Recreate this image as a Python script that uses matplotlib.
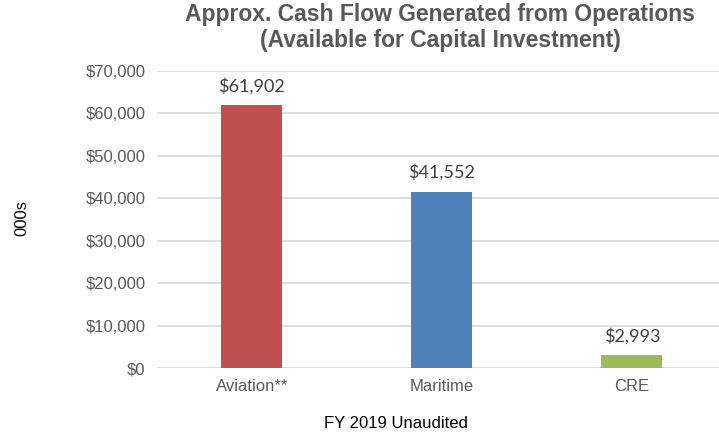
import matplotlib
matplotlib.use("Agg")
import matplotlib.pyplot as plt
from matplotlib.ticker import FuncFormatter

categories = ["Aviation**", "Maritime", "CRE"]
values = [61902, 41552, 2993]
colors = ["#C0504D", "#4F81BD", "#9BBB59"]
yticks = [0, 10000, 20000, 30000, 40000, 50000, 60000, 70000]

GRAY = "#595959"

fig = plt.figure(figsize=(7.19, 4.33), dpi=100)
ax = fig.add_axes([0.218, 0.150, 0.793, 0.686])

x = range(len(categories))
ax.bar(x, values, width=0.32, color=colors, zorder=3)
for xi, v in zip(x, values):
    ax.text(xi, v + 2600, f"${v:,}", ha="center", va="bottom",
            fontsize=13, color="#404040", family="Lato")

ax.set_xlim(-0.5, 2.5)
ax.set_ylim(0, 70000)
ax.set_yticks(yticks)
ax.yaxis.set_major_formatter(FuncFormatter(lambda v, p: f"${v:,.0f}"))
ax.set_xticks(list(x))
ax.set_xticklabels(categories)
ax.grid(axis="y", color="#D9D9D9", linewidth=1.2, zorder=0)
for s in ax.spines.values():
    s.set_visible(False)
ax.tick_params(length=0, labelsize=12, labelcolor=GRAY, pad=8)
for lab in ax.get_xticklabels() + ax.get_yticklabels():
    lab.set_family("Liberation Sans")

fig.text(0.612, 0.994, "Approx. Cash Flow Generated from Operations\n(Available for Capital Investment)",
         ha="center", va="top", fontsize=16.5, fontweight="bold", color=GRAY,
         family="Liberation Sans", linespacing=1.2)
fig.text(0.55, 0.004, "FY 2019 Unaudited", ha="center", va="bottom",
         fontsize=12, family="Liberation Sans")
fig.text(0.03, 0.497, "000s", ha="center", va="center", rotation=90,
         fontsize=12, family="Liberation Sans")

fig.savefig("out.png", dpi=100)
